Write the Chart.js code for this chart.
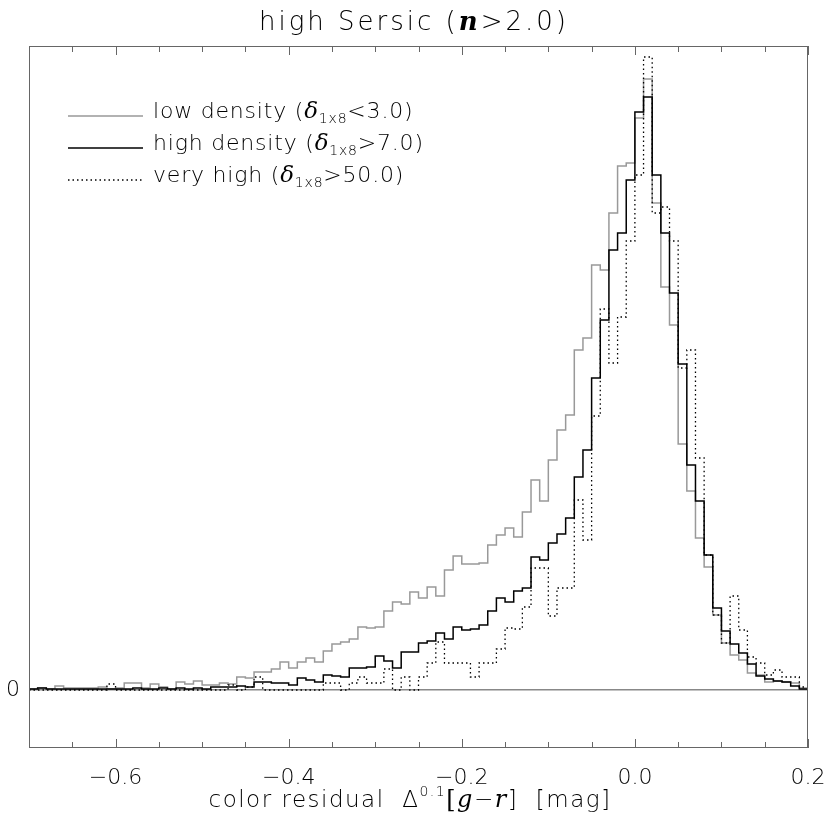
<!DOCTYPE html>
<html>
<head>
<meta charset="utf-8">
<script src="https://cdn.jsdelivr.net/npm/chart.js@4.4.1/dist/chart.umd.min.js"></script>
<style>
  html, body { margin: 0; background: #fff; }
  #wrap { width: 830px; height: 830px; }
</style>
</head>
<body>
<div id="wrap"><canvas id="histChart" width="830" height="830"></canvas></div>
<script>
// bins of 0.01 mag from -0.7 to 0.2
const binStart = -0.7;
const binWidth = 0.01;

// relative counts per bin
const lowDensity = [1, 2, 1, 4, 2, 2, 2, 2, 3, 1,
    2, 7, 7, 2, 6, 3, 1, 8, 6, 9,
    5, 5, 7, 6, 13, 12, 18, 18, 21, 28,
    22, 28, 32, 28, 39, 46, 48, 51, 63, 62,
    63, 79, 88, 86, 98, 92, 103, 94, 120, 134,
    126, 126, 127, 145, 155, 162, 153, 178, 210, 189,
    230, 260, 275, 340, 352, 425, 420, 477, 524, 527,
    572, 611, 487, 403, 365, 246, 199, 152, 123, 75,
    47, 35, 30, 17, 15, 8, 9, 8, 7, 2];

const highDensity = [1, 2, 1, 1, 1, 1, 1, 1, 1, 1,
    1, 1, 2, 1, 1, 2, 1, 2, 1, 2,
    1, 3, 3, 3, 4, 3, 8, 8, 7, 7,
    5, 12, 10, 8, 15, 14, 13, 22, 22, 23,
    34, 29, 22, 38, 38, 47, 49, 57, 51, 63,
    60, 61, 65, 79, 92, 88, 99, 102, 133, 130,
    147, 156, 172, 213, 240, 312, 370, 440, 457, 510,
    578, 593, 515, 457, 397, 326, 225, 189, 135, 82,
    59, 46, 37, 26, 14, 11, 9, 8, 4, 1];

const veryHigh = [0, 0, 0, 0, 0, 0, 0, 0, 0, 6,
    0, 0, 0, 0, 0, 0, 0, 0, 0, 0,
    0, 0, 0, 5, 0, 3, 13, 0, 0, 0,
    0, 0, 0, 0, 7, 7, 0, 7, 13, 7,
    7, 21, 0, 13, 0, 13, 27, 48, 27, 27,
    27, 13, 27, 27, 41, 62, 61, 83, 122, 122,
    74, 102, 102, 190, 150, 274, 381, 327, 373, 449,
    515, 633, 477, 483, 449, 322, 340, 232, 135, 75,
    47, 94, 60, 33, 27, 15, 20, 13, 13, 3];

const xTickValues = [-0.6, -0.4, -0.2, 0.0, 0.2];
const xMin = -0.7, xMax = 0.2, xMinorStep = 0.05;
const yMin = -58, yMax = 644;

const SANS = "'DejaVu Sans'";
const SERIF = "'DejaVu Serif'";
const LIGHT = 200;
const INK = '#000';

// one point per bin lower edge, plus the closing edge
function stepData(values) {
    const pts = values.map((v, i) => ({ x: binStart + i * binWidth, y: v }));
    pts.push({ x: binStart + values.length * binWidth, y: values[values.length - 1] });
    return pts;
}

function fmt(v) {
    return (v < -1e-9 ? '\u2212' : '') + Math.abs(v).toFixed(1);
}

// draws a run of text pieces with their own fonts / offsets
function drawRich(ctx, parts, x, y, align, spacing) {
    ctx.letterSpacing = (spacing || 0) + 'px';
    let total = 0;
    parts.forEach(p => { ctx.font = p.font; p.w = ctx.measureText(p.text).width; total += p.w; });
    let cx = align === 'center' ? x - total / 2 : x;
    ctx.textAlign = 'left';
    ctx.textBaseline = 'alphabetic';
    parts.forEach(p => {
        ctx.font = p.font;
        ctx.fillText(p.text, cx, y + (p.dy || 0));
        cx += p.w;
    });
    ctx.letterSpacing = '0px';
}

const framePlugin = {
    id: 'frame',
    afterDatasetsDraw(chart) {
        const { ctx, chartArea: a, scales } = chart;
        ctx.save();
        ctx.strokeStyle = '#666';
        ctx.lineWidth = 1;
        ctx.strokeRect(a.left + 0.5, a.top + 0.5, a.right - a.left - 1, a.bottom - a.top - 1);
        // inward ticks on bottom and top
        for (let v = xMin; v <= xMax + 1e-9; v += xMinorStep) {
            const major = xTickValues.some(t => Math.abs(t - v) < 1e-6);
            const len = major ? 9 : 6;
            const px = Math.round(scales.x.getPixelForValue(v)) + 0.5;
            ctx.beginPath();
            ctx.moveTo(px, a.bottom);
            ctx.lineTo(px, a.bottom - len);
            ctx.moveTo(px, a.top);
            ctx.lineTo(px, a.top + len);
            ctx.stroke();
        }
        ctx.restore();
    }
};

const legendRows = [
    { name: 'low density (', cut: '<3.0)', color: '#999', dash: [] },
    { name: 'high density (', cut: '>7.0)', color: '#000', dash: [] },
    { name: 'very high (', cut: '>50.0)', color: '#000', dash: [1.5, 3] }
];

const textPlugin = {
    id: 'texts',
    afterDraw(chart) {
        const ctx = chart.ctx;
        ctx.save();
        ctx.fillStyle = INK;

        // title
        drawRich(ctx, [
            { text: 'high Sersic (', font: `${LIGHT} 26px ${SANS}` },
            { text: 'n', font: `italic bold 26px ${SERIF}` },
            { text: '>2.0)', font: `${LIGHT} 26px ${SANS}` }
        ], 414, 30, 'center', 3);

        // x axis title
        drawRich(ctx, [
            { text: 'color residual  \u0394', font: `${LIGHT} 23px ${SANS}` },
            { text: '0.1', font: `${LIGHT} 14px ${SANS}`, dy: -11 },
            { text: '[', font: `24px ${SERIF}` },
            { text: 'g', font: `italic 24px ${SERIF}` },
            { text: '\u2212', font: `${LIGHT} 23px ${SANS}` },
            { text: 'r', font: `italic 24px ${SERIF}` },
            { text: ']  [mag]', font: `${LIGHT} 23px ${SANS}` }
        ], 410, 807, 'center', 1.5);

        // legend
        legendRows.forEach((r, i) => {
            const ly = 116 + i * 32;
            ctx.beginPath();
            ctx.strokeStyle = r.color;
            ctx.lineWidth = 1.5;
            ctx.setLineDash(r.dash);
            ctx.moveTo(68, ly);
            ctx.lineTo(143, ly);
            ctx.stroke();
            ctx.setLineDash([]);
            drawRich(ctx, [
                { text: r.name, font: `${LIGHT} 22px ${SANS}` },
                { text: '\u03b4', font: `italic 23px ${SERIF}` },
                { text: '1x8', font: `${LIGHT} 14px ${SANS}`, dy: 5 },
                { text: r.cut, font: `${LIGHT} 22px ${SANS}` }
            ], 153, ly + 2, 'left', 0.8);
        });
        ctx.restore();
    }
};

const baseSet = { stepped: 'before', pointRadius: 0, tension: 0, fill: false };

new Chart(document.getElementById('histChart'), {
    type: 'line',
    data: {
        datasets: [
            { ...baseSet, label: 'low density', data: stepData(lowDensity), borderColor: '#999', borderWidth: 1.5, order: 3 },
            { ...baseSet, label: 'high density', data: stepData(highDensity), borderColor: '#000', borderWidth: 1.5, order: 2 },
            { ...baseSet, label: 'very high', data: stepData(veryHigh), borderColor: '#000', borderWidth: 1.3, borderDash: [1.5, 3], order: 1 }
        ]
    },
    options: {
        responsive: false,
        animation: false,
        layout: { padding: { top: 46, right: 22, left: 0, bottom: 0 } },
        plugins: { legend: { display: false }, tooltip: { enabled: false } },
        scales: {
            x: {
                type: 'linear', min: xMin, max: xMax,
                afterBuildTicks: s => { s.ticks = xTickValues.map(v => ({ value: v })); },
                afterFit: s => { s.height = 82; s.paddingLeft = 0; s.paddingRight = 0; },
                grid: { display: false },
                border: { display: false },
                ticks: { autoSkip: false, maxRotation: 0, padding: 9, color: INK, font: { family: SANS, size: 22, weight: LIGHT }, callback: v => fmt(v) }
            },
            y: {
                min: yMin, max: yMax,
                afterBuildTicks: s => { s.ticks = [{ value: 0 }]; },
                afterFit: s => { s.width = 29; },
                grid: { color: '#888', lineWidth: 1.5, drawTicks: false },
                border: { display: false },
                ticks: { padding: 9, color: INK, font: { family: SANS, size: 22, weight: LIGHT }, callback: () => '0' }
            }
        }
    },
    plugins: [framePlugin, textPlugin]
});
</script>
</body>
</html>
